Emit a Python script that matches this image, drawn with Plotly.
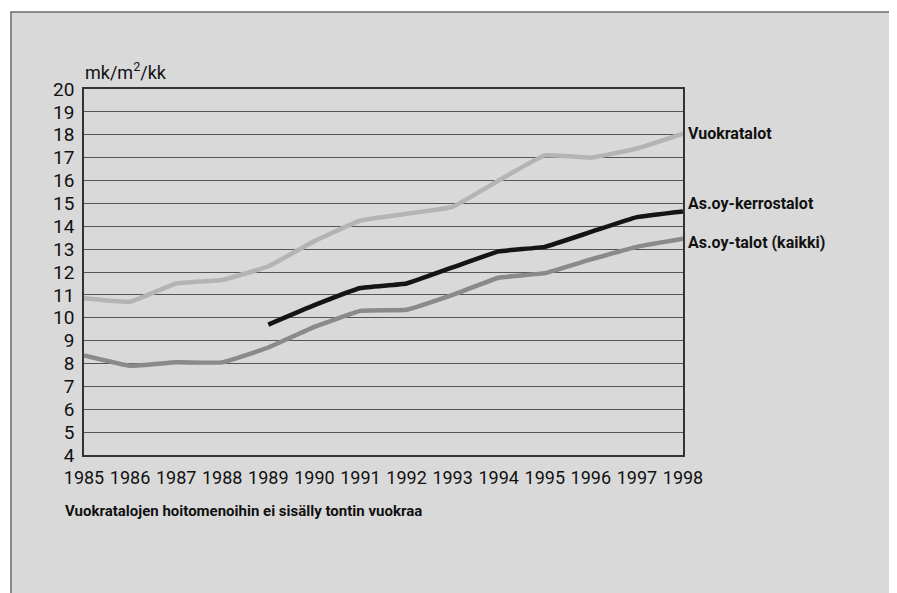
import plotly.graph_objects as go

years = list(range(1985, 1999))
vuokratalot = [10.85, 10.7, 11.5, 11.65, 12.25, 13.35, 14.25, 14.55, 14.85, 16.0, 17.1, 17.0, 17.4, 18.05]
kerrostalot = [None, None, None, None, 9.7, 10.55, 11.3, 11.5, 12.2, 12.9, 13.1, 13.75, 14.4, 14.65]
kaikki = [8.35, 7.9, 8.05, 8.05, 8.7, 9.6, 10.3, 10.35, 11.0, 11.75, 11.95, 12.55, 13.1, 13.45]

series_names = ["Vuokratalot", "As.oy-kerrostalot", "As.oy-talot (kaikki)"]
series_vals = [vuokratalot, kerrostalot, kaikki]
series_colors = ["#b4b4b4", "#141414", "#8a8a8a"]
label_y = [18.05, 15.0, 13.3]

y_ticks = list(range(4, 21))
footnote = "Vuokratalojen hoitomenoihin ei sisälly tontin vuokraa"
y_title = "mk/m<sup>2</sup>/kk"

FONT = "Roboto, Liberation Sans, sans-serif"

fig = go.Figure()
for name, vals, col in zip(series_names, series_vals, series_colors):
    fig.add_trace(go.Scatter(x=years, y=vals, mode="lines", name=name,
                             line=dict(color=col, width=4.5, shape="spline", smoothing=0.3),
                             connectgaps=False, showlegend=False))

for name, ly in zip(series_names, label_y):
    fig.add_annotation(x=1998, y=ly, xref="x", yref="y", text="<b>" + name + "</b>",
                       showarrow=False, xanchor="left", yanchor="middle", xshift=3,
                       font=dict(family=FONT, size=16, color="#111"))

fig.add_annotation(x=-0.002, y=1.0, xref="paper", yref="paper", text=y_title,
                   showarrow=False, xanchor="left", yanchor="bottom", yshift=4,
                   font=dict(family=FONT, size=18, color="#111"))

fig.add_annotation(x=-0.035, y=-0.153, xref="paper", yref="paper", text="<b>" + footnote + "</b>",
                   showarrow=False, xanchor="left", yanchor="middle",
                   font=dict(family=FONT, size=15, color="#111"))

# outer frame panel
fig.add_shape(type="rect", xref="paper", yref="paper", x0=-0.1219, x1=1.347, y0=-0.6, y1=1.2104,
              fillcolor="#d9d9d9", line=dict(color="#6a6a6a", width=1.5), layer="below")
fig.add_shape(type="line", xref="paper", yref="paper", x0=-0.1336, x1=-0.1336, y0=-0.6, y1=1.25,
              line=dict(color="#9a9a9a", width=1.5))

fig.update_xaxes(range=[1985, 1998], tickmode="array", tickvals=years,
                 ticktext=[str(y) for y in years], showgrid=False, zeroline=False,
                 showline=True, linecolor="#333", linewidth=1.5, mirror=True, ticks="",
                 tickangle=0, automargin=False, ticklabelstandoff=6,
                 tickfont=dict(family=FONT, size=18, color="#111"))
fig.update_yaxes(range=[4, 20], tickmode="array", tickvals=y_ticks,
                 ticktext=[str(v) for v in y_ticks], showgrid=True, gridcolor="#555",
                 gridwidth=1, zeroline=False, showline=True, linecolor="#333",
                 linewidth=1.5, mirror=True, ticks="", ticklabelstandoff=4, automargin=False,
                 tickfont=dict(family=FONT, size=19, color="#111"))

fig.update_layout(width=897, height=593, margin=dict(l=76, r=222, t=81, b=146),
                  paper_bgcolor="white", plot_bgcolor="white")

fig.write_html("out.html")
